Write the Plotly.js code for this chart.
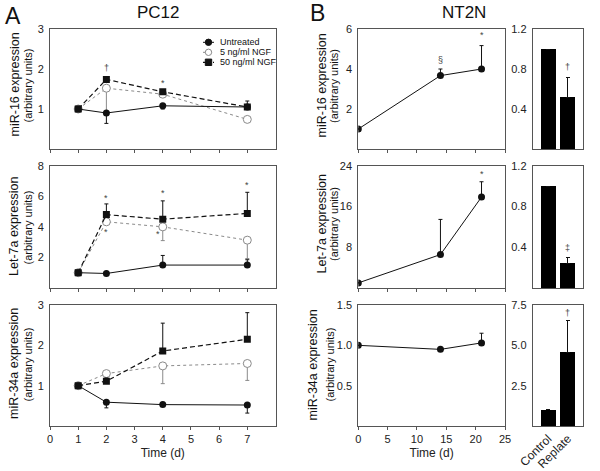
<!DOCTYPE html>
<html><head><meta charset="utf-8">
<script src="https://cdn.plot.ly/plotly-3.0.1.min.js"></script>
<style>html,body{margin:0;padding:0;background:#fff}</style>
</head><body><div id="chart" style="width:600px;height:471px"></div>
<script>
// ---------- DATA ----------
const seriesNames = ['Untreated', '5 ng/ml NGF', '50 ng/ml NGF'];
const daysA = [1, 2, 4, 7];

// PC12 miR-16
const miR16_untr = [1.0, 0.9, 1.08, 1.05];
const miR16_untr_minus = [0, 0.26, 0.08, 0];
const miR16_5ng = [1.0, 1.52, 1.37, 0.74];
const miR16_5ng_minus = [0, 0.6, 0, 0];
const miR16_50ng = [1.0, 1.74, 1.43, 1.05];
const miR16_50ng_plus = [0, 0, 0, 0.15];

// PC12 Let-7a
const let7_untr = [1.0, 0.95, 1.5, 1.5];
const let7_untr_plus = [0, 0, 0.63, 0.35];
const let7_5ng = [1.0, 4.33, 4.0, 3.13];
const let7_5ng_minus = [0, 0, 0.9, 1.2];
const let7_50ng = [1.0, 4.8, 4.5, 4.88];
const let7_50ng_plus = [0, 0.7, 1.2, 1.38];

// PC12 miR-34a
const miR34_untr = [1.0, 0.59, 0.53, 0.52];
const miR34_untr_minus = [0, 0.14, 0, 0.2];
const miR34_5ng = [1.0, 1.3, 1.49, 1.55];
const miR34_5ng_minus = [0, 0, 0.44, 0.42];
const miR34_50ng = [1.0, 1.11, 1.86, 2.15];
const miR34_50ng_plus = [0, 0.08, 0.69, 0.66];

// NT2N time course
const daysB = [0, 14, 21];
const nt_miR16 = [1.0, 3.67, 4.0];
const nt_miR16_plus = [0, 0.33, 1.17];
const nt_let7 = [1.0, 6.56, 17.85];
const nt_let7_plus = [0, 6.9, 3.0];
const nt_miR34 = [1.0, 0.95, 1.03];
const nt_miR34_plus = [0, 0, 0.12];

// NT2N bars
const barCats = ['Control', 'Replate'];
const bar_miR16 = [1.0, 0.52];
const bar_miR16_err = [0, 0.2];
const bar_let7 = [1.0, 0.245];
const bar_let7_err = [0, 0.055];
const bar_miR34 = [1.0, 4.57];
const bar_miR34_err = [0, 2.0];

// significance marks [x, y, symbol, axis]
const sigMarks = [
  [2, 2.02, '†', 1], [4, 1.65, '*', 1],
  [2, 5.9, '*', 2], [2, 3.65, '*', 2], [4, 6.2, '*', 2], [3.84, 3.55, '*', 2], [7, 6.75, '*', 2],
  [14, 4.45, '§', 4], [21, 5.7, '*', 4],
  [21, 22.4, '*', 5],
  [1, 0.82, '†', 7], [1, 0.39, '‡', 8], [1, 7.0, '†', 9]
];

// ---------- LAYOUT HELPERS ----------
const W = 600, H = 471;
const px = v => v / W, py = v => 1 - v / H;
const FONT = 'Liberation Sans, Arial, sans-serif';
const xA = [px(50), px(275.5)], xBL = [px(358.3), px(505)], xBB = [px(532.7), px(582.7)];
const rows = [[py(149), py(29)], [py(288), py(165.7)], [py(426), py(305)]];

const C_BLACK = '#111', C_GRAY = '#8a8a8a';
function errBar(plus, minus, color) {
  return {type: 'data', symmetric: false, array: plus, arrayminus: minus, color: color, thickness: 1, width: 2};
}
const zeros = n => new Array(n).fill(0);

const traces = [];
function pcTraces(ax, u, uP, uM, f, fP, fM, h, hP, hM) {
  const xa = 'x' + (ax === 1 ? '' : ax), ya = 'y' + (ax === 1 ? '' : ax);
  traces.push({x: daysA, y: f, xaxis: xa, yaxis: ya, type: 'scatter', mode: 'lines+markers', name: seriesNames[1],
    line: {color: C_GRAY, width: 1, dash: 'dot'}, marker: {symbol: 'circle', size: 8, color: '#fff', line: {color: C_GRAY, width: 1}},
    error_y: errBar(fP, fM, C_GRAY), showlegend: false});
  traces.push({x: daysA, y: h, xaxis: xa, yaxis: ya, type: 'scatter', mode: 'lines+markers', name: seriesNames[2],
    line: {color: C_BLACK, width: 1.2, dash: '5px,3px'}, marker: {symbol: 'square', size: 7, color: C_BLACK},
    error_y: errBar(hP, hM, C_BLACK), showlegend: false});
  traces.push({x: daysA, y: u, xaxis: xa, yaxis: ya, type: 'scatter', mode: 'lines+markers', name: seriesNames[0],
    line: {color: C_BLACK, width: 1}, marker: {symbol: 'circle', size: 7, color: C_BLACK},
    error_y: errBar(uP, uM, C_BLACK), showlegend: false});
}
pcTraces(1, miR16_untr, zeros(4), miR16_untr_minus, miR16_5ng, zeros(4), miR16_5ng_minus, miR16_50ng, miR16_50ng_plus, zeros(4));
pcTraces(2, let7_untr, let7_untr_plus, zeros(4), let7_5ng, zeros(4), let7_5ng_minus, let7_50ng, let7_50ng_plus, zeros(4));
pcTraces(3, miR34_untr, zeros(4), miR34_untr_minus, miR34_5ng, zeros(4), miR34_5ng_minus, miR34_50ng, miR34_50ng_plus, zeros(4));

[[nt_miR16, nt_miR16_plus, 4], [nt_let7, nt_let7_plus, 5], [nt_miR34, nt_miR34_plus, 6]].forEach(([y, p, ax]) => {
  traces.push({x: daysB, y: y, xaxis: 'x' + ax, yaxis: 'y' + ax, type: 'scatter', mode: 'lines+markers',
    line: {color: C_BLACK, width: 1}, marker: {symbol: 'circle', size: 7, color: C_BLACK},
    error_y: errBar(p, zeros(3), C_BLACK), showlegend: false});
});
[[bar_miR16, bar_miR16_err, 7], [bar_let7, bar_let7_err, 8], [bar_miR34, bar_miR34_err, 9]].forEach(([y, e, ax]) => {
  traces.push({x: barCats, y: y, xaxis: 'x' + ax, yaxis: 'y' + ax, type: 'bar', width: 0.76,
    marker: {color: '#000', line: {width: 0}},
    error_y: {type: 'data', symmetric: false, array: e, arrayminus: zeros(2), color: C_BLACK, thickness: 1, width: 2},
    showlegend: false});
});

const layout = {
  width: W, height: H, margin: {l: 0, r: 0, t: 0, b: 0},
  paper_bgcolor: '#fff', plot_bgcolor: 'rgba(0,0,0,0)',
  font: {family: FONT, size: 11, color: '#222'},
  showlegend: false, bargap: 0,
  annotations: [], shapes: []
};
const baseAx = {showline: true, mirror: true, linecolor: '#555', linewidth: 1, showgrid: false, zeroline: false,
  tickfont: {family: FONT, size: 11, color: '#222'}, fixedrange: true};

function xax(domain, range, tickvals, showLabels, anchor, title) {
  const a = Object.assign({}, baseAx, {domain: domain, range: range, tickvals: tickvals, ticks: 'outside', ticklen: 3,
    tickcolor: '#555', showticklabels: showLabels, anchor: anchor});
  if (title) a.title = {text: title, font: {family: FONT, size: 12, color: '#222'}, standoff: 4};
  return a;
}
function yax(domain, range, tickvals, fmt, anchor) {
  return Object.assign({}, baseAx, {domain: domain, range: range, tickvals: tickvals, ticks: '', tickformat: fmt || '',
    ticklabelstandoff: 3, anchor: anchor});
}
const tA = [0, 1, 2, 3, 4, 5, 6, 7], tB = [0, 5, 10, 15, 20, 25];
layout.xaxis = xax(xA, [0, 8], tA, false, 'y');
layout.yaxis = yax(rows[0], [0, 3], [1, 2, 3], '', 'x');
layout.xaxis2 = xax(xA, [0, 8], tA, false, 'y2');
layout.yaxis2 = yax(rows[1], [0, 8], [2, 4, 6, 8], '', 'x2');
layout.xaxis3 = xax(xA, [0, 8], tA, true, 'y3', 'Time (d)');
layout.yaxis3 = yax(rows[2], [0, 3], [1, 2, 3], '', 'x3');
layout.xaxis4 = xax(xBL, [0, 25], tB, false, 'y4');
layout.yaxis4 = yax(rows[0], [0, 6], [2, 4, 6], '', 'x4');
layout.xaxis5 = xax(xBL, [0, 25], tB, false, 'y5');
layout.yaxis5 = yax(rows[1], [0, 24], [8, 16, 24], '', 'x5');
layout.xaxis6 = xax(xBL, [0, 25], tB, true, 'y6', 'Time (d)');
layout.yaxis6 = yax(rows[2], [0, 1.5], [0.5, 1.0, 1.5], '.1f', 'x6');
[7, 8, 9].forEach((n, i) => {
  layout['xaxis' + n] = Object.assign({}, baseAx, {domain: xBB, type: 'category', range: [-0.78, 1.76], ticks: '',
    showticklabels: i === 2, tickangle: -45, anchor: 'y' + n, tickfont: {family: FONT, size: 12, color: '#222'}});
});
layout.yaxis7 = yax(rows[0], [0, 1.2], [0.4, 0.8, 1.2], '.1f', 'x7');
layout.yaxis8 = yax(rows[1], [0, 1.2], [0.4, 0.8, 1.2], '.1f', 'x8');
layout.yaxis9 = yax(rows[2], [0, 7.5], [2.5, 5.0, 7.5], '.1f', 'x9');

// significance annotations
sigMarks.forEach(([x, y, s, ax]) => {
  layout.annotations.push({x: x, y: y, xref: 'x' + ax, yref: 'y' + ax, text: s, showarrow: false,
    font: {family: FONT, size: 9, color: '#444'}, xanchor: 'center', yanchor: 'middle'});
});

// panel labels / titles
function txt(text, x, y, size, extra) {
  layout.annotations.push(Object.assign({text: text, x: px(x), y: py(y), xref: 'paper', yref: 'paper', showarrow: false,
    xanchor: 'center', yanchor: 'middle', font: {family: FONT, size: size, color: '#111'}}, extra || {}));
}
txt('A', 12.5, 16.5, 23);
txt('PC12', 158.5, 13, 17);
txt('B', 317.5, 13, 23);
txt('NT2N', 463.7, 12.5, 17);

// y-axis titles (two lines)
const yTitles = [
  ['miR-16 expression', 14.5, 27.5, 85], ['Let-7a expression', 14, 27.5, 227], ['miR-34a expression', 14, 27.5, 364],
  ['miR-16 expression', 321.5, 334, 86], ['Let-7a expression', 321.5, 334, 224], ['miR-34a expression', 312.5, 329.5, 365]
];
yTitles.forEach(([t, x1, x2, yc]) => {
  txt(t, x1, yc, 12.5, {textangle: -90});
  txt('(arbitrary units)', x2, yc, 11, {textangle: -90});
});

// manual legend
const legRows = [42.3, 52.3, 62.3];
const legStyles = [
  {line: {color: C_BLACK, width: 1}, sym: 'circle', fill: C_BLACK, lc: C_BLACK},
  {line: {color: C_GRAY, width: 1, dash: 'dot'}, sym: 'circle', fill: '#fff', lc: C_GRAY},
  {line: {color: C_BLACK, width: 1.2, dash: '3px,2px'}, sym: 'rect', fill: C_BLACK, lc: C_BLACK}
];
legRows.forEach((yy, i) => {
  const st = legStyles[i];
  layout.shapes.push({type: 'line', xref: 'paper', yref: 'paper', x0: px(203), x1: px(214), y0: py(yy), y1: py(yy), line: st.line});
  layout.shapes.push({type: st.sym, xref: 'paper', yref: 'paper', xsizemode: 'pixel', ysizemode: 'pixel',
    xanchor: px(208.5), yanchor: py(yy), x0: -3.2, x1: 3.2, y0: -3.2, y1: 3.2, fillcolor: st.fill,
    line: {color: st.lc, width: 1}});
  layout.annotations.push({text: seriesNames[i], x: px(218), y: py(yy), xref: 'paper', yref: 'paper', showarrow: false,
    xanchor: 'left', yanchor: 'middle', font: {family: FONT, size: 9, color: '#111'}});
});

Plotly.newPlot('chart', traces, layout, {displayModeBar: false, staticPlot: true});
</script>
</body></html>
